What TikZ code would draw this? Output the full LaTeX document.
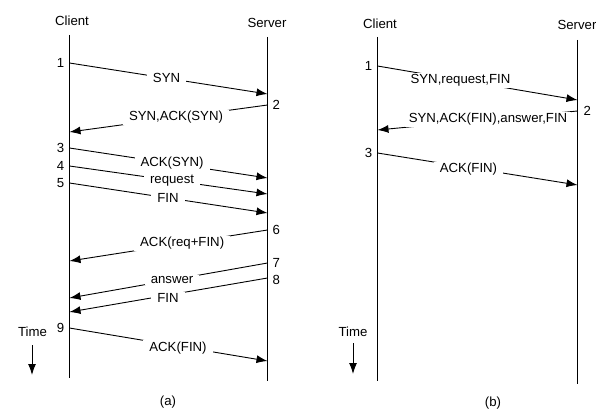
\documentclass[tikz,border=0pt]{standalone}
\usepackage{fontspec}
\setmainfont{Liberation Sans}
\usetikzlibrary{arrows.meta}
\begin{document}
\begin{tikzpicture}[x=1pt,y=-1pt,
  every node/.style={font=\fontsize{13.2}{15}\selectfont, inner sep=0pt},
  life/.style={line width=1pt},
  msg/.style={line width=0.9pt,-{Latex[length=11pt,width=8pt]}},
  timearrow/.style={line width=1pt,-{Latex[length=11pt,width=8pt]}},
  lab/.style={fill=white, inner xsep=6pt, inner ysep=1.5pt}]
\useasboundingbox (0,0) rectangle (596,412);
\fill[white] (0,0) rectangle (596,412);

% ---------- (a) ----------
\node (cliA) at (72,21) {Client};
\node (srvA) at (267,23) {Server};
\coordinate (cAt) at (69.5,35);
\coordinate (cAb) at (69.5,378);
\coordinate (sAt) at (267.5,37);
\coordinate (sAb) at (267.5,381);
\draw[life] (cAt) -- (cAb);
\draw[life] (sAt) -- (sAb);

\coordinate (a1s) at (69.5,63);    \coordinate (a1e) at (267.5,94);
\coordinate (a2s) at (267.5,105); \coordinate (a2e) at (69.5,132);
\coordinate (a3s) at (69.5,148);   \coordinate (a3e) at (267.5,178);
\coordinate (a4s) at (69.5,166);   \coordinate (a4e) at (267.5,194);
\coordinate (a5s) at (69.5,183);   \coordinate (a5e) at (267.5,213);
\coordinate (a6s) at (267.5,230); \coordinate (a6e) at (69.5,261);
\coordinate (a7s) at (267.5,263); \coordinate (a7e) at (69.5,298);
\coordinate (a8s) at (267.5,278); \coordinate (a8e) at (69.5,312);
\coordinate (a9s) at (69.5,328);   \coordinate (a9e) at (267.5,361);

\draw[msg] (a1s) -- node[lab,pos=.49] (la1) {SYN} (a1e);
\draw[msg] (a2s) -- node[lab,pos=.462] (la2) {SYN,ACK(SYN)} (a2e);
\draw[msg] (a3s) -- node[lab,pos=.518] (la3) {ACK(SYN)} (a3e);
\draw[msg] (a4s) -- node[lab,pos=.518] (la4) {request} (a4e);
\draw[msg] (a5s) -- node[lab,pos=.497] (la5) {FIN} (a5e);
\draw[msg] (a6s) -- node[lab,pos=.431] (la6) {ACK(req+FIN)} (a6e);
\draw[msg] (a7s) -- node[lab,pos=.482] (la7) {answer} (a7e);
\draw[msg] (a8s) -- node[lab,pos=.503,yshift=-3pt] (la8) {FIN} (a8e);
\draw[msg] (a9s) -- node[lab,pos=.548,yshift=-2pt] (la9) {ACK(FIN)} (a9e);

\node[anchor=east] (na1) at ([xshift=-5pt]a1s) {1};
\node[anchor=west] (na2) at ([xshift=5pt]a2s) {2};
\node[anchor=east] (na3) at ([xshift=-5pt]a3s) {3};
\node[anchor=east] (na4) at ([xshift=-5pt]a4s) {4};
\node[anchor=east] (na5) at ([xshift=-5pt]a5s) {5};
\node[anchor=west] (na6) at ([xshift=5pt]a6s) {6};
\node[anchor=west] (na7) at ([xshift=5pt]a7s) {7};
\node[anchor=west] (na8) at ([xshift=5pt,yshift=-2pt]a8s) {8};
\node[anchor=east] (na9) at ([xshift=-5pt]a9s) {9};

\node (timeA) at (32.5,332) {Time};
\coordinate (tAs) at (32,345);
\coordinate (tAe) at (32,375);
\draw[timearrow] (tAs) -- (tAe);
\node (capA) at (168,402) {(a)};

% ---------- (b) ----------
\node (cliB) at (380,24) {Client};
\node (srvB) at (577,25) {Server};
\coordinate (cBt) at (377.5,37);
\coordinate (cBb) at (377.5,381);
\coordinate (sBt) at (577.5,40);
\coordinate (sBb) at (577.5,384);
\draw[life] (cBt) -- (cBb);
\draw[life] (sBt) -- (sBb);

\coordinate (b1s) at (377.5,66);  \coordinate (b1e) at (577.5,100);
\coordinate (b2s) at (577.5,111); \coordinate (b2e) at (377.5,130);
\coordinate (b3s) at (377.5,153); \coordinate (b3e) at (577.5,185);

\draw[msg] (b1s) -- node[lab,pos=.415] (lb1) {SYN,request,FIN} (b1e);
\draw[msg] (b2s) -- node[lab,pos=.4475,inner xsep=4pt] (lb2) {SYN,ACK(FIN),answer,FIN} (b2e);
\draw[msg] (b3s) -- node[lab,pos=.455,yshift=-2pt] (lb3) {ACK(FIN)} (b3e);

\node[anchor=east] (nb1) at ([xshift=-5pt]b1s) {1};
\node[anchor=west] (nb2) at ([xshift=6pt]b2s) {2};
\node[anchor=east] (nb3) at ([xshift=-5pt]b3s) {3};

\node (timeB) at (353,332) {Time};
\coordinate (tBs) at (353,343);
\coordinate (tBe) at (353,374);
\draw[timearrow] (tBs) -- (tBe);
\node (capB) at (493,403) {(b)};
\end{tikzpicture}
\end{document}
